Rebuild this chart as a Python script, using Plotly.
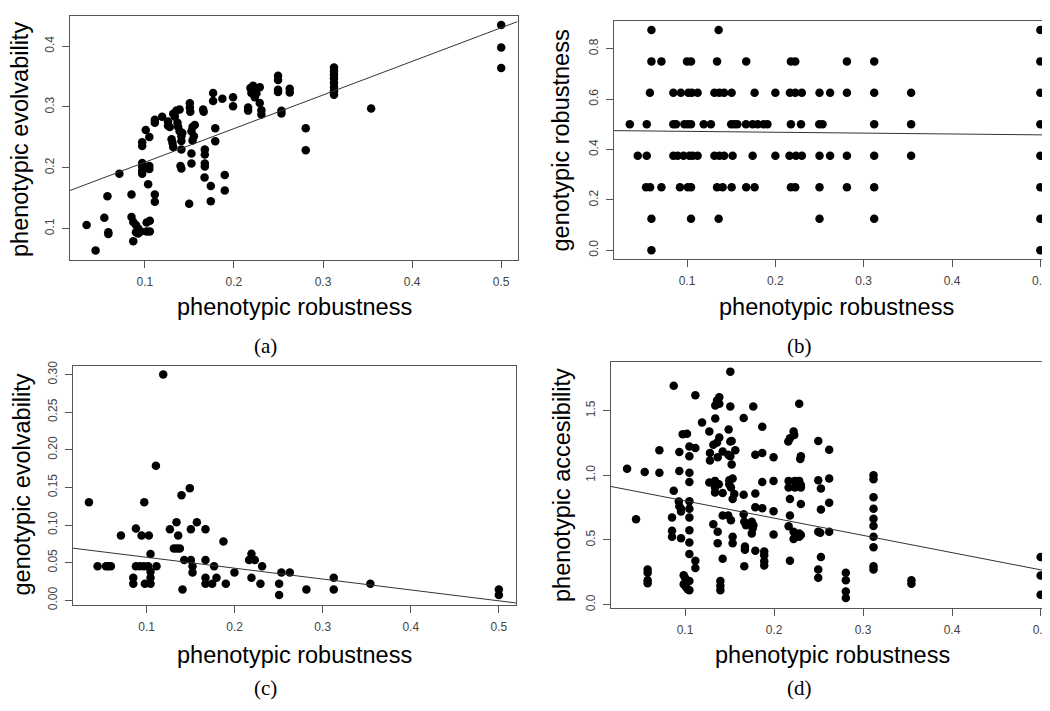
import numpy as np
import plotly.graph_objects as go

# ---------------- data ----------------
# (a) phenotypic robustness vs phenotypic evolvability
a_x = [0.0346, 0.0447, 0.0545, 0.058, 0.059, 0.059, 0.0714, 0.085, 0.085, 0.087, 0.087,
       0.09, 0.09, 0.0925, 0.0925, 0.0955, 0.097, 0.097, 0.097, 0.097, 0.097, 0.097,
       0.101, 0.105, 0.105, 0.105, 0.1037, 0.102, 0.1056, 0.102, 0.1056, 0.1112, 0.1112,
       0.1112, 0.1112, 0.1194, 0.126, 0.126, 0.128, 0.1318, 0.1336, 0.1355, 0.13, 0.131,
       0.1318, 0.1366, 0.1374, 0.139, 0.139, 0.141, 0.141, 0.141, 0.142, 0.140, 0.141,
       0.1505, 0.1505, 0.151, 0.1497, 0.1523, 0.1523, 0.1523, 0.1535, 0.1535, 0.156, 0.155,
       0.1654, 0.166, 0.1673, 0.1673, 0.1673, 0.1673, 0.167, 0.174, 0.174, 0.1766, 0.1766,
       0.179, 0.179, 0.187, 0.1897, 0.1897, 0.199, 0.199, 0.2159, 0.2159, 0.2185, 0.2196,
       0.2215, 0.2234, 0.2252, 0.2215, 0.229, 0.229, 0.2308, 0.2308, 0.2495, 0.2495, 0.2495,
       0.2495, 0.2533, 0.2533, 0.2626, 0.2626, 0.2806, 0.2806,
       0.3123, 0.3123, 0.3123, 0.3123, 0.3123, 0.3123, 0.3123, 0.3123,
       0.354, 0.5, 0.5, 0.5]
a_y = [0.106, 0.064, 0.118, 0.153, 0.094, 0.091, 0.190, 0.156, 0.119, 0.111, 0.079,
       0.106, 0.094, 0.100, 0.092, 0.095, 0.242, 0.236, 0.208, 0.202, 0.195, 0.190,
       0.262, 0.2505, 0.203, 0.198, 0.173, 0.110, 0.113, 0.095, 0.095, 0.156, 0.144,
       0.279, 0.274, 0.284, 0.276, 0.269, 0.267, 0.289, 0.284, 0.294, 0.247, 0.241,
       0.234, 0.274, 0.267, 0.296, 0.260, 0.252, 0.244, 0.230, 0.257, 0.203, 0.199,
       0.306, 0.299, 0.292, 0.141, 0.2236, 0.207, 0.260, 0.267, 0.245, 0.2705, 0.252,
       0.296, 0.292, 0.230, 0.222, 0.207, 0.202, 0.184, 0.170, 0.145, 0.323, 0.310,
       0.265, 0.2435, 0.3137, 0.188, 0.1626, 0.316, 0.301, 0.299, 0.294, 0.331, 0.323,
       0.328, 0.316, 0.322, 0.335, 0.3326, 0.3067, 0.2948, 0.2878, 0.3514, 0.3444, 0.3282,
       0.3245, 0.2937, 0.2894, 0.330, 0.324, 0.265, 0.229,
       0.365, 0.359, 0.353, 0.347, 0.340, 0.333, 0.326, 0.320,
       0.2975, 0.435, 0.398, 0.364]

# (b) phenotypic robustness vs genotypic robustness (one list per level)
b_levels = [0.875, 0.75, 0.625, 0.5, 0.375, 0.25, 0.125, 0.0]
b_x_by_level = [
    [0.0597, 0.1358, 0.5],
    [0.0597, 0.071, 0.1, 0.1045, 0.134, 0.167, 0.2176, 0.2225, 0.281, 0.3119, 0.5],
    [0.058, 0.0845, 0.093, 0.1015, 0.1055, 0.112, 0.131, 0.1366, 0.142, 0.1505, 0.1765,
     0.2, 0.2165, 0.2225, 0.23, 0.25, 0.262, 0.281, 0.3119, 0.3537, 0.5],
    [0.0352, 0.0544, 0.0845, 0.0876, 0.097, 0.1008, 0.1045, 0.1189, 0.127, 0.15, 0.1535,
     0.157, 0.1667, 0.1743, 0.18, 0.1867, 0.191, 0.2176, 0.229, 0.2497, 0.2534, 0.3119,
     0.3537, 0.5],
    [0.0442, 0.0544, 0.0845, 0.0894, 0.096, 0.1026, 0.1064, 0.112, 0.131, 0.1366, 0.142,
     0.1516, 0.1743, 0.2, 0.216, 0.2233, 0.23, 0.25, 0.262, 0.281, 0.3119, 0.3537, 0.5],
    [0.0536, 0.0582, 0.071, 0.092, 0.1008, 0.1045, 0.134, 0.1403, 0.1505, 0.167, 0.1765,
     0.2176, 0.2225, 0.25, 0.281, 0.3119, 0.5],
    [0.0597, 0.1045, 0.1358, 0.25, 0.3119, 0.5],
    [0.0597, 0.5],
]
b_x = [x for xs in b_x_by_level for x in xs]
b_y = [lv for lv, xs in zip(b_levels, b_x_by_level) for _ in xs]

# (c) phenotypic robustness vs genotypic evolvability
c_x = [0.0346, 0.0444, 0.0539, 0.0565, 0.0595, 0.0709, 0.0849, 0.0849, 0.0879, 0.0879,
       0.0924, 0.097, 0.1019, 0.0943, 0.0974, 0.0981, 0.1026, 0.1045, 0.1045, 0.1045,
       0.1045, 0.1113, 0.1106, 0.1189, 0.1265, 0.131, 0.1345, 0.134, 0.1359, 0.1378,
       0.1397, 0.1408, 0.1427, 0.1491, 0.1503, 0.1503, 0.1522, 0.1522, 0.1571, 0.1669,
       0.1669, 0.1669, 0.1669, 0.1745, 0.1767, 0.1794, 0.1873, 0.19, 0.1998, 0.2164,
       0.2191, 0.2191, 0.2229, 0.2293, 0.2312, 0.2505, 0.2505, 0.2531, 0.2626, 0.2815,
       0.3125, 0.3125, 0.3541, 0.5, 0.5]
c_y = [0.1304, 0.0453, 0.0453, 0.0453, 0.0453, 0.0863, 0.0301, 0.0222, 0.0955, 0.0453,
       0.0453, 0.0453, 0.0453, 0.0863, 0.1304, 0.0222, 0.0863, 0.0615, 0.0379, 0.0301,
       0.0222, 0.0453, 0.1788, 0.300, 0.0946, 0.0689, 0.0689, 0.1038, 0.0863, 0.0689,
       0.1395, 0.0144, 0.0536, 0.1491, 0.0946, 0.0536, 0.0453, 0.0371, 0.1038, 0.0946,
       0.0536, 0.0301, 0.0222, 0.0222, 0.0453, 0.0301, 0.0781, 0.0222, 0.0371, 0.0536,
       0.0619, 0.0301, 0.0536, 0.0222, 0.0453, 0.0222, 0.0070, 0.0371, 0.0371, 0.0144,
       0.0301, 0.0144, 0.0222, 0.0144, 0.0070]

# (d) phenotypic robustness vs phenotypic accesibility
d_x = [0.0349, 0.045, 0.0547, 0.058, 0.058, 0.058, 0.058, 0.0712, 0.0712, 0.0873, 0.0873,
       0.0854, 0.0854, 0.0854, 0.0936, 0.0936, 0.093, 0.0936, 0.0955, 0.0955, 0.0955,
       0.0974, 0.1022, 0.0985, 0.1, 0.0985, 0.1011, 0.103, 0.1049,
       0.1049, 0.1049, 0.1049, 0.1049, 0.1049, 0.1049, 0.1049, 0.1049, 0.1049, 0.1049,
       0.1049, 0.1116, 0.1116, 0.1116, 0.1116, 0.1191, 0.1273, 0.128, 0.128, 0.1273,
       0.1318, 0.1318, 0.134, 0.134, 0.136, 0.1385, 0.1385, 0.136, 0.1385, 0.1337, 0.1337,
       0.1337, 0.1367, 0.1367, 0.1367, 0.1397, 0.1397, 0.1397, 0.138, 0.1423, 0.1423,
       0.1423, 0.1423, 0.149, 0.1486, 0.1497, 0.1497, 0.1509, 0.1509, 0.1509, 0.1524,
       0.1509, 0.1524, 0.1516, 0.1535, 0.1535, 0.1554, 0.1486, 0.1516, 0.1535, 0.1535,
       0.1565, 0.1659, 0.1659, 0.1659, 0.1666, 0.1685, 0.1673, 0.1673, 0.1666, 0.1767,
       0.175, 0.1768, 0.176, 0.175, 0.179, 0.179, 0.179, 0.179, 0.1868, 0.1868, 0.1868,
       0.1868, 0.189, 0.189, 0.189, 0.189, 0.1995, 0.1995, 0.1995, 0.1995, 0.216, 0.2179,
       0.2164, 0.2164, 0.2179, 0.2179, 0.2164, 0.2179, 0.222, 0.2227, 0.2235, 0.2235,
       0.222, 0.2235, 0.222, 0.2283, 0.2295, 0.2302, 0.2283, 0.2302, 0.2302, 0.2302,
       0.2283, 0.2302, 0.2283, 0.2497, 0.2497, 0.2497, 0.2519, 0.2497, 0.2497, 0.2527,
       0.2527, 0.2527, 0.262, 0.262, 0.262, 0.262, 0.2807, 0.2807, 0.2807, 0.2807,
       0.3118, 0.3118, 0.3118, 0.3118, 0.3118, 0.3118, 0.3118, 0.3118, 0.3118, 0.3118,
       0.3544, 0.3544, 0.4996, 0.4996, 0.4996]
d_y = [1.051, 0.660, 1.025, 0.272, 0.246, 0.188, 0.165, 1.193, 1.020, 1.693, 0.881,
       0.673, 0.571, 0.525, 1.180, 1.033, 0.797, 0.761, 0.741, 0.721, 0.513,
       1.317, 1.322, 0.228, 0.208, 0.157, 0.137, 0.119, 0.112,
       1.223, 1.147, 1.020, 0.949, 0.800, 0.741, 0.673, 0.576, 0.480, 0.391,
       0.183, 1.619, 1.211, 0.340, 0.284, 1.409, 1.338, 1.173, 1.114, 0.944,
       0.622, 1.236, 1.439, 1.541, 1.579, 1.604, 1.553, 1.254, 1.292, 0.957, 0.906,
       0.868, 1.140, 0.563, 0.475, 0.183, 0.145, 0.112, 0.931, 1.185, 0.863,
       0.690, 0.355, 1.355, 1.160, 0.962, 0.931, 1.802, 1.533, 1.261, 1.266,
       1.147, 1.084, 0.906, 0.975, 0.817, 0.855, 0.690, 0.652, 0.525, 0.475,
       1.193, 1.444, 0.850, 0.698, 0.640, 0.614, 0.449, 0.424, 0.297, 1.533,
       0.640, 0.614, 0.589, 0.551, 1.160, 0.860, 0.754, 0.416, 1.376, 1.173, 0.949,
       0.746, 0.411, 0.381, 0.335, 0.302, 1.140, 0.957, 0.723, 0.543, 1.261, 1.287,
       0.957, 0.906, 0.817, 0.690, 0.607, 0.340, 1.338, 1.312, 0.957, 0.906,
       0.563, 0.525, 0.508, 1.553, 1.127, 1.147, 0.957, 0.926, 0.906, 0.779,
       0.551, 0.538, 0.525, 1.266, 0.962, 0.563, 0.556, 0.272, 0.208, 0.898,
       0.736, 0.368, 1.198, 0.975, 0.787, 0.563, 0.246, 0.188, 0.102, 0.051,
       1.000, 0.970, 0.830, 0.741, 0.665, 0.609, 0.525, 0.444, 0.297, 0.272,
       0.188, 0.162, 0.368, 0.226, 0.076]

# regression lines as printed in the figure (intercept, slope)
fit_intercepts = [0.1538, 0.4756, 0.0717, 0.936]
fit_slopes = [0.553, -0.0347, -0.1446, -1.335]

x_title = "phenotypic robustness"
y_titles = ["phenotypic evolvability", "genotypic robustness",
            "genotypic evolvability", "phenotypic accesibility"]
captions = ["(a)", "(b)", "(c)", "(d)"]
x_ticks = [0.1, 0.2, 0.3, 0.4, 0.5]
y_ticks = [[0.1, 0.2, 0.3, 0.4],
           [0.0, 0.2, 0.4, 0.6, 0.8],
           [0.0, 0.05, 0.10, 0.15, 0.20, 0.25, 0.30],
           [0.0, 0.5, 1.0, 1.5]]
y_ticktext = [["0.1", "0.2", "0.3", "0.4"],
              ["0.0", "0.2", "0.4", "0.6", "0.8"],
              ["0.00", "0.05", "0.10", "0.15", "0.20", "0.25", "0.30"],
              ["0.0", "0.5", "1.0", "1.5"]]

# ---------------- layout geometry ----------------
OFF = 8                      # page body margin of the html page
VW, VH = 1050, 711           # window size
W, H = VW - OFF, VH - OFF    # figure size so that it fits the window exactly
# plot boxes in window pixels: (left, right, top, bottom)
boxes = [(70, 518, 11, 259), (614.3, 1050, 15.7, 258),
         (73, 516.7, 366.7, 609), (611.3, 1050, 363, 612.3)]
x_ranges = [[0.0159, 0.5183], [0.017, 0.5098], [0.0164, 0.5197], [0.0165, 0.509]]
y_ranges = [[0.0482, 0.4497], [-0.035, 0.912], [-0.0056, 0.3112], [-0.025, 1.873]]
xtitle_pos = [(295, 307), (837, 307), (295, 660), (833, 660)]
ytitle_pos = [(20, 136), (562, 137), (22, 487), (562, 487)]
caption_pos = [(266, 346), (800, 346), (266, 694), (800, 694)]


def px(x):
    return (x - OFF) / W


def py(y):
    return 1 - (y - OFF) / H


data = [(a_x, a_y), (b_x, b_y), (c_x, c_y), (d_x, d_y)]

fig = go.Figure()
annotations = []
tickfont = dict(family="Liberation Sans", size=12, color="#444")
for i, (xs, ys) in enumerate(data):
    n = "" if i == 0 else str(i + 1)
    xa, ya = "x" + n, "y" + n
    fig.add_trace(go.Scatter(x=xs, y=ys, mode="markers", xaxis=xa, yaxis=ya,
                             marker=dict(color="black", size=8.5, line=dict(width=0)),
                             showlegend=False, hoverinfo="skip"))
    lx = np.array(x_ranges[i])
    fig.add_trace(go.Scatter(x=lx, y=fit_intercepts[i] + fit_slopes[i] * lx, mode="lines",
                             xaxis=xa, yaxis=ya, line=dict(color="#333333", width=1),
                             showlegend=False, hoverinfo="skip"))
    l, r, t, b = boxes[i]
    right_cut = (r >= VW)
    fig.layout["xaxis" + n] = dict(
        domain=[px(l), min(px(r), 1.0)], range=x_ranges[i], anchor=ya,
        tickvals=x_ticks, ticktext=[f"{v:.1f}" for v in x_ticks],
        ticks="outside", ticklen=7, tickcolor="#555", tickwidth=1, ticklabelstandoff=4,
        ticklabeloverflow="allow",
        showline=True, linecolor="#555", linewidth=1, mirror=True,
        showgrid=False, zeroline=False, tickfont=tickfont)
    fig.layout["yaxis" + n] = dict(
        domain=[py(b), py(t)], range=y_ranges[i], anchor=xa,
        tickvals=y_ticks[i], ticktext=y_ticktext[i], tickangle=-90,
        ticks="outside", ticklen=7, tickcolor="#555", tickwidth=1, ticklabelstandoff=3,
        showline=True, linecolor="#555", linewidth=1,
        mirror=(False if right_cut else True),
        showgrid=False, zeroline=False, tickfont=tickfont)
    annotations.append(dict(text=x_title, x=px(xtitle_pos[i][0]), y=py(xtitle_pos[i][1]),
                            xref="paper", yref="paper", showarrow=False,
                            xanchor="center", yanchor="middle",
                            font=dict(family="Liberation Sans", size=23.5, color="black")))
    annotations.append(dict(text=y_titles[i], x=px(ytitle_pos[i][0]), y=py(ytitle_pos[i][1]),
                            xref="paper", yref="paper", showarrow=False, textangle=-90,
                            xanchor="center", yanchor="middle",
                            font=dict(family="Liberation Sans", size=23.5, color="black")))
    annotations.append(dict(text=captions[i], x=px(caption_pos[i][0]), y=py(caption_pos[i][1]),
                            xref="paper", yref="paper", showarrow=False,
                            xanchor="center", yanchor="middle",
                            font=dict(family="Liberation Serif", size=21, color="black")))

fig.update_layout(width=W, height=H, margin=dict(l=0, r=0, t=0, b=0),
                  paper_bgcolor="white", plot_bgcolor="white",
                  annotations=annotations)

fig.write_html("out.html")
